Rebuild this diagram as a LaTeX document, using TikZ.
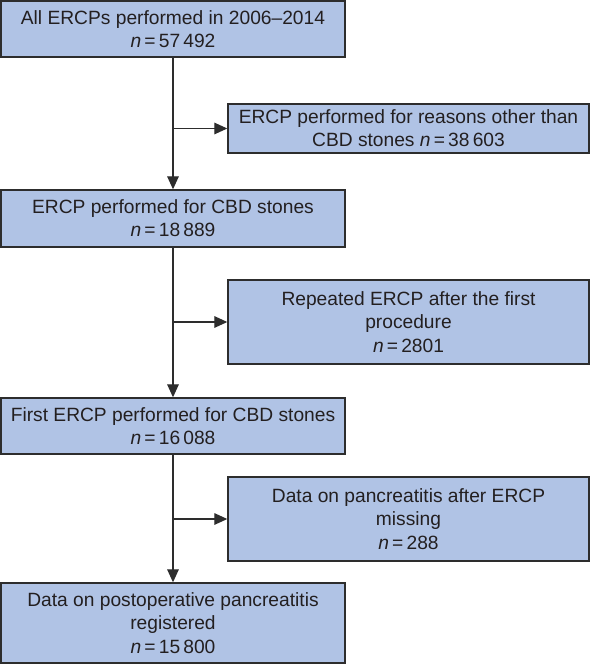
\documentclass[tikz,border=0pt]{standalone}
\usepackage{fontspec}
\setmainfont{Liberation Sans}
\usepackage{xcolor}
\usetikzlibrary{arrows.meta,positioning}
\definecolor{boxfill}{RGB}{176,195,229}
\definecolor{boxline}{RGB}{45,45,45}
\definecolor{txt}{RGB}{35,31,32}
\newcommand{\nval}[1]{\textit{n}\,=\,#1}

\begin{document}
\begin{tikzpicture}[x=0.5pt,y=-0.5pt,
    box/.style={draw=boxline, line width=0.7pt, fill=boxfill, text=txt, align=center,
                font=\fontsize{9.6}{11.6}\selectfont, inner sep=0pt},
    leftbox/.style={box, minimum width=172pt},
    rightbox/.style={box, minimum width=180.5pt},
    arr/.style={line width=0.6pt, draw=boxline, -{Triangle[length=6.5pt,width=5.8pt]}}]
        % Frame
        \useasboundingbox (0,0) rectangle (591,664);

        % Main column
        \node[leftbox, minimum height=28pt] (all) at (173,29) {All ERCPs performed in 2006--2014\\ \nval{57\,492}};
        \node[leftbox, minimum height=28.5pt] (cbd) at (173,218.5) {ERCP performed for CBD stones\\ \nval{18\,889}};
        \node[leftbox, minimum height=28pt] (first) at (173,426) {First ERCP performed for CBD stones\\ \nval{16\,088}};
        \node[leftbox, minimum height=40pt] (reg) at (173,623) {Data on postoperative pancreatitis\\ registered\\ \nval{15\,800}};

        % Exclusions
        \node[rightbox, minimum height=24.5pt] (other) at (408.5,128.5) {ERCP performed for reasons other than\\ CBD stones \nval{38\,603}};
        \node[rightbox, minimum height=42pt] (rep) at (408.5,322) {Repeated ERCP after the first\\ procedure\\ \nval{2801}};
        \node[rightbox, minimum height=42pt] (miss) at (408.5,519) {Data on pancreatitis after ERCP\\ missing\\ \nval{288}};

        % Arrows down
        \draw[arr] (all) -- (cbd);
        \draw[arr] (cbd) -- (first);
        \draw[arr] (first) -- (reg);

        % Arrows right
        \draw[arr] (all.south |- other.west) -- (other.west);
        \draw[arr] (cbd.south |- rep.west) -- (rep.west);
        \draw[arr] (first.south |- miss.west) -- (miss.west);
\end{tikzpicture}
\end{document}
